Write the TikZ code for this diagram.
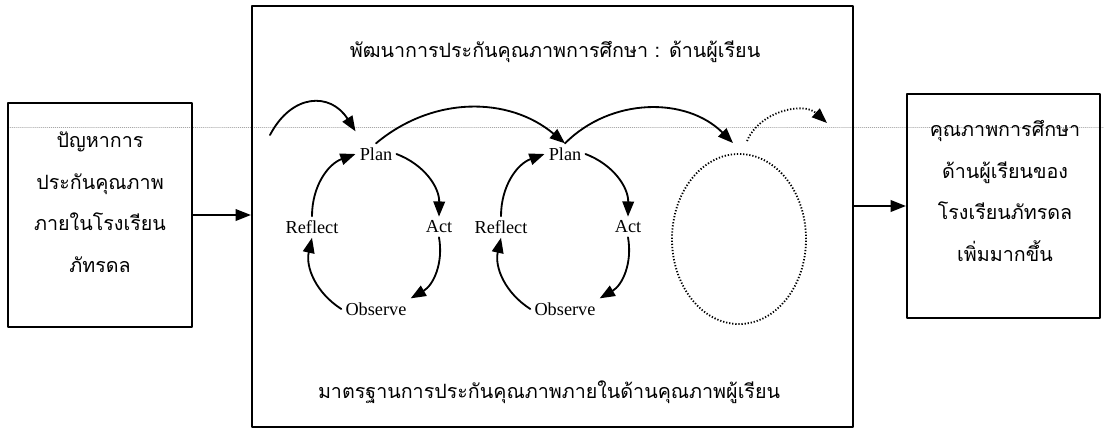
\documentclass[tikz,border=0pt]{standalone}
\usepackage{fontspec}
\setmainfont{Liberation Serif}
\newfontfamily\thaifont[Script=Thai]{Loma}
\usepackage{tikz}
\usetikzlibrary{arrows.meta,positioning,shapes.geometric}
\tikzset{
    every picture/.style={line cap=round,line join=round},
    framebox/.style={draw=black,line width=1.5pt,inner sep=0pt},
    thaitext/.style={font=\thaifont\fontsize{14}{29.5}\selectfont,
      align=center,inner sep=1pt},
    stagelabel/.style={font=\fontsize{13}{15}\selectfont,inner sep=2pt,outer sep=1pt},
    cyclearrow/.style={-{Triangle[length=3.8mm,width=2.9mm]},line width=1.3pt},
    flowarrow/.style={-{Triangle[length=3.8mm,width=2.9mm]},line width=1.2pt},
    dotline/.style={line cap=butt,dash pattern=on 0.9pt off 1.3pt,line width=1.3pt},
    guideline/.style={gray!70,densely dotted,line width=0.4pt}
}
\begin{document}
\begin{tikzpicture}[x=0.025cm,y=0.025cm]
  \useasboundingbox (0,0) rectangle (1104,-430);
  % faint guide line across the page
  \coordinate (gl) at (10,-127);
  \coordinate (gr) at (1104,-127);
  \draw[guideline] (gl) -- (gr);
  % three blocks
  \node[framebox,minimum width=4.6cm,minimum height=5.6cm] (prob) at (100,-215) {};
  \node[framebox,minimum width=15.025cm,minimum height=10.525cm] (mid) at (552.5,-216.5) {};
  \node[framebox,minimum width=4.825cm,minimum height=5.6cm] (res) at (1003.5,-206) {};
  \node[thaitext] (probtxt) at (100,-202)
    {ปัญหาการ\\ประกันคุณภาพ\\ภายในโรงเรียน\\ภัทรดล};
  \node[thaitext] (restxt) at (1005,-191)
    {คุณภาพการศึกษา\\ด้านผู้เรียนของ\\โรงเรียนภัทรดล\\เพิ่มมากขึ้น};
  \node[thaitext] (title) at (555,-52) {พัฒนาการประกันคุณภาพการศึกษา : ด้านผู้เรียน};
  \node[thaitext] (std) at (549,-392) {มาตรฐานการประกันคุณภาพภายในด้านคุณภาพผู้เรียน};
  \draw[flowarrow] (prob.east) -- (prob.east -| mid.west);
  \draw[flowarrow] (mid.east |- res.west) -- (res.west);
  % PAOR cycles
  \foreach \c/\cx in {1/376,2/565} {
    \node[stagelabel] (plan\c) at (\cx,-154) {Plan};
    \node[stagelabel] (act\c) at (\cx+63,-227) {Act};
    \node[stagelabel] (obs\c) at (\cx,-309) {Observe};
    \node[stagelabel] (refl\c) at (\cx-64,-227) {Reflect};
    \draw[cyclearrow] (plan\c.east) to[bend left=35] (act\c.north);
    \draw[cyclearrow] (act\c.south) to[bend left=35] (obs\c.north east);
    \draw[cyclearrow] (obs\c.west) to[bend left=35] (refl\c.south);
    \draw[cyclearrow] (refl\c.north) to[bend left=35] (plan\c.west);
  }
  \node[ellipse,draw,dotline,
    minimum width=3.35cm,minimum height=4.25cm] (nextcyc) at (739,-239) {};
  % links between cycles
  \coordinate (start) at (270,-135);
  \coordinate (nexttip) at (827,-123);
  \draw[cyclearrow] (start) to[bend left=60,looseness=1.4]
    ([yshift=0.3cm]plan1.north west);
  \draw[cyclearrow] (plan1.north) to[bend left=40] (plan2.north);
  \draw[cyclearrow] (plan2.north) to[bend left=45]
    ([xshift=-0.15cm,yshift=0.25cm]nextcyc.north);
  \draw[cyclearrow,dotline] ([xshift=0.2cm,yshift=0.3cm]nextcyc.north)
    to[bend left=55] (nexttip);
\end{tikzpicture}
\end{document}
